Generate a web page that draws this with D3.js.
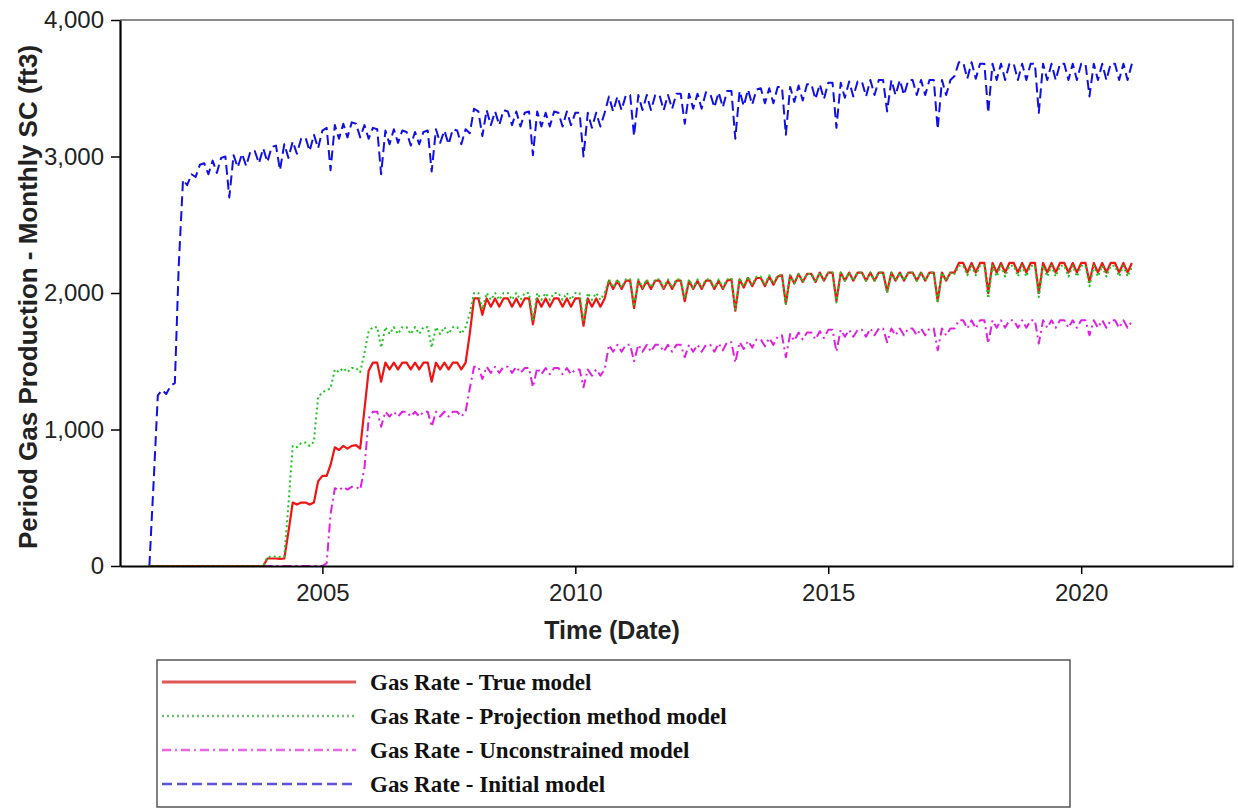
<!DOCTYPE html>
<html>
<head>
<meta charset="utf-8">
<script src="https://cdn.jsdelivr.net/npm/d3@7"></script>
<style>
  body { margin: 0; background: #fff; }
  svg { display: block; }
</style>
</head>
<body>
<svg id="chart" width="1238" height="810"></svg>
<script>
// Data: monthly gas production, one value per month starting 2001-08-01
const firstMonth = new Date(Date.UTC(2001, 7, 1));

const initialModel = [
  0, 620, 1250, 1290, 1260, // 2001 Aug-Dec
  1320, 1340, 2200, 2830, 2790, 2870, 2850, 2940, 2950, 2870, 2970, 2880, // 2002
  2990, 3000, 2700, 3010, 2920, 3020, 2930, 3040, 3040, 2950, 3060, 2960, // 2003
  3070, 3080, 2900, 3090, 2990, 3110, 3020, 3130, 3140, 3040, 3160, 3060, // 2004
  3190, 3210, 2900, 3230, 3130, 3240, 3140, 3250, 3240, 3140, 3230, 3130, // 2005
  3210, 3200, 2870, 3190, 3090, 3200, 3100, 3190, 3180, 3080, 3180, 3090, // 2006
  3180, 3190, 2890, 3200, 3100, 3190, 3090, 3200, 3190, 3090, 3200, 3170, // 2007
  3350, 3330, 3150, 3340, 3230, 3330, 3230, 3340, 3330, 3230, 3330, 3220, // 2008
  3320, 3330, 3010, 3330, 3220, 3320, 3220, 3330, 3320, 3220, 3330, 3230, // 2009
  3320, 3320, 3000, 3320, 3210, 3320, 3220, 3320, 3440, 3330, 3440, 3340, // 2010
  3450, 3450, 3150, 3450, 3340, 3450, 3340, 3450, 3450, 3340, 3450, 3350, // 2011
  3460, 3460, 3240, 3460, 3350, 3460, 3350, 3470, 3460, 3360, 3470, 3360, // 2012
  3480, 3480, 3130, 3480, 3370, 3490, 3380, 3490, 3500, 3390, 3500, 3390, // 2013
  3510, 3510, 3160, 3510, 3400, 3520, 3410, 3530, 3530, 3420, 3530, 3420, // 2014
  3540, 3540, 3210, 3540, 3430, 3550, 3440, 3550, 3550, 3440, 3560, 3450, // 2015
  3560, 3560, 3330, 3560, 3450, 3560, 3450, 3560, 3560, 3450, 3560, 3450, // 2016
  3560, 3560, 3200, 3560, 3450, 3560, 3590, 3690, 3690, 3570, 3690, 3570, // 2017
  3680, 3680, 3320, 3680, 3560, 3680, 3560, 3680, 3680, 3560, 3680, 3560, // 2018
  3680, 3680, 3320, 3680, 3560, 3680, 3560, 3680, 3680, 3560, 3680, 3560, // 2019
  3680, 3680, 3440, 3680, 3560, 3680, 3560, 3680, 3680, 3560, 3680, 3560, // 2020
  3680, // 2021 Jan
];

const trueModel = [
  0, 0, 0, 0, 0, // 2001 Aug-Dec
  0, 0, 0, 0, 0, 0, 0, 0, 0, 0, 0, 0, // 2002
  0, 0, 0, 0, 0, 0, 0, 0, 0, 0, 0, 55, // 2003
  55, 55, 52, 55, 250, 465, 450, 465, 465, 450, 465, 620, // 2004
  660, 660, 740, 870, 850, 880, 860, 880, 885, 860, 1150, 1430, // 2005
  1490, 1490, 1350, 1490, 1440, 1490, 1440, 1490, 1490, 1440, 1490, 1440, // 2006
  1490, 1490, 1350, 1490, 1440, 1490, 1440, 1490, 1490, 1440, 1490, 1700, // 2007
  1960, 1960, 1840, 1960, 1900, 1960, 1900, 1960, 1960, 1900, 1960, 1900, // 2008
  1960, 1960, 1770, 1960, 1900, 1960, 1900, 1960, 1960, 1900, 1960, 1900, // 2009
  1960, 1960, 1760, 1960, 1900, 1960, 1900, 1960, 2090, 2030, 2090, 2030, // 2010
  2090, 2090, 1890, 2090, 2030, 2090, 2030, 2090, 2090, 2030, 2090, 2030, // 2011
  2090, 2090, 1940, 2090, 2030, 2090, 2030, 2090, 2090, 2030, 2090, 2030, // 2012
  2090, 2100, 1870, 2100, 2040, 2110, 2050, 2110, 2110, 2050, 2120, 2060, // 2013
  2120, 2130, 1920, 2130, 2070, 2140, 2080, 2140, 2140, 2080, 2150, 2090, // 2014
  2150, 2150, 1940, 2150, 2090, 2150, 2090, 2150, 2150, 2090, 2150, 2090, // 2015
  2150, 2150, 2010, 2150, 2090, 2150, 2090, 2150, 2150, 2090, 2150, 2090, // 2016
  2150, 2150, 1940, 2150, 2090, 2150, 2150, 2220, 2220, 2150, 2220, 2150, // 2017
  2220, 2220, 2000, 2220, 2150, 2220, 2150, 2220, 2220, 2150, 2220, 2150, // 2018
  2220, 2220, 2000, 2220, 2150, 2220, 2150, 2220, 2220, 2150, 2220, 2150, // 2019
  2220, 2220, 2080, 2220, 2150, 2220, 2150, 2220, 2220, 2150, 2220, 2150, // 2020
  2220, // 2021 Jan
];

const projectionModel = [
  0, 0, 0, 0, 0, // 2001 Aug-Dec
  0, 0, 0, 0, 0, 0, 0, 0, 0, 0, 0, 0, // 2002
  0, 0, 0, 0, 0, 0, 0, 0, 0, 0, 0, 65, // 2003
  70, 70, 66, 70, 450, 880, 870, 900, 905, 880, 910, 1240, // 2004
  1270, 1290, 1300, 1440, 1420, 1450, 1420, 1450, 1450, 1420, 1560, 1720, // 2005
  1750, 1750, 1600, 1750, 1700, 1750, 1700, 1750, 1750, 1700, 1750, 1700, // 2006
  1750, 1750, 1600, 1750, 1700, 1750, 1700, 1750, 1750, 1700, 1750, 1850, // 2007
  2000, 2000, 1880, 2000, 1950, 2000, 1950, 2000, 2000, 1950, 2000, 1950, // 2008
  2000, 2000, 1800, 2000, 1950, 2000, 1950, 2000, 2000, 1950, 2000, 1950, // 2009
  2000, 2000, 1790, 2000, 1950, 2000, 1950, 2000, 2100, 2040, 2100, 2040, // 2010
  2100, 2100, 1900, 2100, 2040, 2100, 2040, 2100, 2100, 2040, 2100, 2040, // 2011
  2100, 2100, 1960, 2100, 2040, 2100, 2040, 2100, 2100, 2040, 2100, 2040, // 2012
  2100, 2110, 1880, 2110, 2050, 2120, 2060, 2120, 2120, 2060, 2130, 2070, // 2013
  2130, 2130, 1920, 2130, 2070, 2140, 2080, 2140, 2140, 2080, 2150, 2090, // 2014
  2150, 2150, 1930, 2150, 2090, 2150, 2090, 2150, 2150, 2090, 2150, 2090, // 2015
  2150, 2150, 2000, 2150, 2090, 2150, 2090, 2150, 2150, 2090, 2150, 2090, // 2016
  2150, 2150, 1930, 2150, 2090, 2150, 2140, 2200, 2200, 2130, 2200, 2130, // 2017
  2200, 2200, 1960, 2200, 2120, 2200, 2120, 2200, 2200, 2120, 2200, 2120, // 2018
  2200, 2200, 1970, 2200, 2120, 2200, 2120, 2200, 2200, 2120, 2200, 2120, // 2019
  2200, 2200, 2050, 2200, 2120, 2200, 2120, 2200, 2200, 2120, 2200, 2120, // 2020
  2190, // 2021 Jan
];

const unconstrainedModel = [
  0, 0, 0, 0, 0, // 2001 Aug-Dec
  0, 0, 0, 0, 0, 0, 0, 0, 0, 0, 0, 0, // 2002
  0, 0, 0, 0, 0, 0, 0, 0, 0, 0, 0, 0, // 2003
  0, 0, 0, 0, 0, 0, 0, 0, 0, 0, 0, 0, // 2004
  0, 20, 380, 570, 555, 580, 560, 580, 580, 560, 720, 1080, // 2005
  1130, 1130, 1020, 1130, 1095, 1130, 1095, 1130, 1130, 1095, 1130, 1095, // 2006
  1130, 1130, 1020, 1130, 1095, 1130, 1095, 1130, 1130, 1095, 1130, 1300, // 2007
  1460, 1460, 1370, 1460, 1415, 1460, 1415, 1460, 1460, 1415, 1460, 1415, // 2008
  1450, 1450, 1310, 1450, 1405, 1450, 1405, 1450, 1450, 1405, 1450, 1405, // 2009
  1440, 1440, 1310, 1440, 1395, 1440, 1395, 1440, 1620, 1570, 1620, 1570, // 2010
  1620, 1620, 1500, 1620, 1570, 1620, 1570, 1620, 1620, 1570, 1620, 1570, // 2011
  1620, 1620, 1530, 1620, 1570, 1620, 1570, 1620, 1620, 1570, 1630, 1580, // 2012
  1640, 1640, 1490, 1640, 1590, 1650, 1600, 1660, 1660, 1610, 1670, 1620, // 2013
  1680, 1690, 1530, 1700, 1650, 1710, 1660, 1710, 1710, 1660, 1720, 1670, // 2014
  1730, 1730, 1570, 1730, 1680, 1730, 1680, 1730, 1730, 1680, 1740, 1690, // 2015
  1740, 1740, 1640, 1740, 1690, 1740, 1690, 1740, 1740, 1690, 1740, 1690, // 2016
  1740, 1740, 1580, 1740, 1690, 1740, 1740, 1800, 1800, 1740, 1800, 1740, // 2017
  1800, 1800, 1630, 1800, 1745, 1800, 1745, 1800, 1800, 1745, 1800, 1745, // 2018
  1800, 1800, 1630, 1800, 1745, 1800, 1745, 1800, 1800, 1745, 1800, 1745, // 2019
  1800, 1800, 1690, 1800, 1745, 1800, 1745, 1800, 1800, 1745, 1800, 1745, // 2020
  1790, // 2021 Jan
];

const legendLabels = [
  "Gas Rate - True model",
  "Gas Rate - Projection method model",
  "Gas Rate - Unconstrained model",
  "Gas Rate - Initial model",
];

const yTicks = [0, 1000, 2000, 3000, 4000];
const xTickYears = [2005, 2010, 2015, 2020];

// Series styles (drawing order: blue, magenta, red, green)
const series = [
  { values: initialModel, color: "#1010e6", legendColor: "#5a55d6", dash: "10,5", width: 2 },
  { values: unconstrainedModel, color: "#e020e0", legendColor: "#e866e8", dash: "9,4,2,4", width: 2 },
  { values: trueModel, color: "#f01414", legendColor: "#dc5a58", dash: null, width: 2.2 },
  { values: projectionModel, color: "#22c422", legendColor: "#6fbf6f", dash: "2,3", width: 2 },
];

// Dimensions
const margin = { top: 20, right: 5, bottom: 244, left: 120 };
const plotRight = 1233;
const plotBottom = 566;

const svg = d3.select("#chart");

// Scales
const xScale = d3
  .scaleUtc()
  .domain([new Date(Date.UTC(2001, 0, 1)), new Date(Date.UTC(2023, 0, 1))])
  .range([margin.left, plotRight]);

const yScale = d3
  .scaleLinear()
  .domain([0, 4000])
  .range([plotBottom, margin.top]);

// Frame (top and right borders)
svg
  .append("path")
  .attr("d", `M${margin.left},${margin.top}H${plotRight}V${plotBottom}`)
  .attr("fill", "none")
  .attr("stroke", "#666")
  .attr("stroke-width", 1.5);

// Lines
const line = d3
  .line()
  .x((d, i) => xScale(d3.utcMonth.offset(firstMonth, i)))
  .y((d) => yScale(d));

series.forEach((s) => {
  svg
    .append("path")
    .datum(s.values)
    .attr("d", line)
    .attr("fill", "none")
    .attr("stroke", s.color)
    .attr("stroke-width", s.width)
    .attr("stroke-dasharray", s.dash)
    .attr("stroke-linejoin", "round");
});

// Y Axis
const yAxis = d3
  .axisLeft(yScale)
  .tickValues(yTicks)
  .tickFormat(d3.format(","))
  .tickSize(9)
  .tickSizeOuter(0)
  .tickPadding(7);

const yAxisG = svg
  .append("g")
  .attr("transform", `translate(${margin.left},0)`)
  .call(yAxis);

// X Axis
const xAxis = d3
  .axisBottom(xScale)
  .tickValues(xTickYears.map((yr) => new Date(Date.UTC(yr, 0, 1))))
  .tickFormat(d3.utcFormat("%Y"))
  .tickSize(8)
  .tickSizeOuter(0)
  .tickPadding(10);

const xAxisG = svg
  .append("g")
  .attr("transform", `translate(0,${plotBottom})`)
  .call(xAxis);

[yAxisG, xAxisG].forEach((g) => {
  g.select(".domain").attr("stroke", "#000").attr("stroke-width", 2.2);
  g.selectAll(".tick line").attr("stroke", "#000").attr("stroke-width", 1.5);
  g.selectAll(".tick text")
    .attr("fill", "#222")
    .style("font-family", "'Liberation Sans', Arial, sans-serif")
    .style("font-size", "24px");
});

// Axis titles
svg
  .append("text")
  .attr("transform", "translate(37,297) rotate(-90)")
  .attr("text-anchor", "middle")
  .style("font-family", "'Liberation Sans', Arial, sans-serif")
  .style("font-size", "26px")
  .style("font-weight", "bold")
  .attr("fill", "#222")
  .text("Period Gas Production - Monthly SC (ft3)");

svg
  .append("text")
  .attr("x", 612)
  .attr("y", 639)
  .attr("text-anchor", "middle")
  .style("font-family", "'Liberation Sans', Arial, sans-serif")
  .style("font-size", "25px")
  .style("font-weight", "bold")
  .attr("fill", "#222")
  .text("Time (Date)");

// Legend
const legend = svg.append("g");

legend
  .append("rect")
  .attr("x", 157)
  .attr("y", 660)
  .attr("width", 913)
  .attr("height", 147)
  .attr("fill", "#fff")
  .attr("stroke", "#555")
  .attr("stroke-width", 1.5);

const legendOrder = [2, 3, 1, 0]; // true, projection, unconstrained, initial

const legendItems = legend
  .selectAll("g.item")
  .data(legendOrder)
  .join("g")
  .attr("class", "item")
  .attr("transform", (d, i) => `translate(0,${682 + i * 34})`);

legendItems
  .append("line")
  .attr("x1", 162)
  .attr("x2", 356)
  .attr("stroke", (d) => series[d].legendColor)
  .attr("stroke-width", (d) => (d === 2 ? 3 : 2.5))
  .attr("stroke-dasharray", (d) => series[d].dash);

legendItems
  .append("text")
  .attr("x", 370)
  .attr("y", 8)
  .style("font-family", "'Liberation Serif', 'Times New Roman', serif")
  .style("font-size", "23px")
  .style("font-weight", "bold")
  .attr("fill", "#111")
  .text((d, i) => legendLabels[i]);
</script>
</body>
</html>
